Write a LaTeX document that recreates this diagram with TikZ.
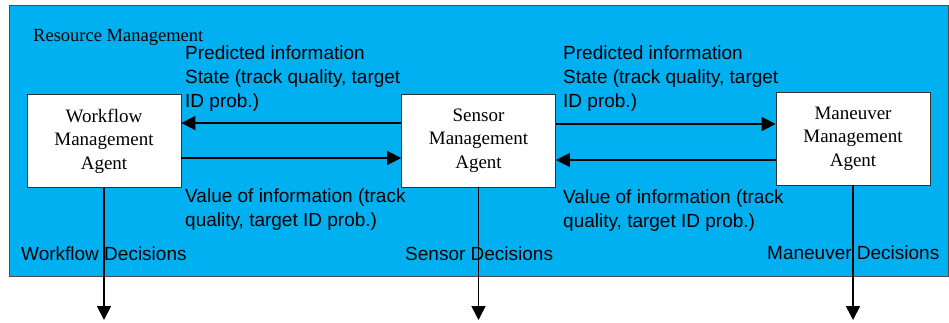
\documentclass[tikz,border=0pt]{standalone}
\usepackage{fontspec}
\setmainfont{Liberation Serif}
\setsansfont{Liberation Sans}
\usetikzlibrary{arrows.meta}
\definecolor{panelblue}{HTML}{00B0F0}
\tikzset{
  agent/.style={draw=black!80, fill=white, line width=0.8pt, minimum width=154pt, minimum height=93pt,
    align=center, inner sep=0pt, font=\fontsize{19}{23.5}\selectfont},
  flowlabel/.style={anchor=west, align=left, inner sep=0pt, font=\sffamily\fontsize{19}{24}\selectfont},
  decision/.style={anchor=west, inner sep=0pt, font=\sffamily\fontsize{19}{24}\selectfont},
  flow/.style={line width=1.6pt, -{Triangle[length=14pt,width=14pt]}},
}
\begin{document}
\begin{tikzpicture}[x=1pt,y=-1pt]
\useasboundingbox (0,0) rectangle (949,322);
% resource management panel
\draw[fill=panelblue, draw=black!70, line width=0.8pt] (9,5) rectangle (948,276);
\node[anchor=base west, inner sep=0pt, font=\fontsize{18.5}{22}\selectfont] (rm) at (33,41) {Resource Management};

% agents
\node[agent] (wf) at (104,141) {Workflow\\Management\\Agent};
\node[agent] (sm) at (478.5,140.5) {Sensor\\Management\\Agent};
\node[agent] (mm) at (853,138.5) {Maneuver\\Management\\Agent};

% flow labels
\node[flowlabel] (lpred) at (185,79) {Predicted information\\State (track quality, target\\ID prob.)};
\node[flowlabel] (lval) at (185,209.5) {Value of information (track\\quality, target ID prob.)};
\node[flowlabel] (rpred) at (563,79) {Predicted information\\State (track quality, target\\ID prob.)};
\node[flowlabel] (rval) at (563,210.5) {Value of information (track\\quality, target ID prob.)};

% decision labels
\node[decision] (wfd) at (21,254) {Workflow Decisions};
\node[decision] (smd) at (405,254) {Sensor Decisions};
\node[decision] (mmd) at (767,253) {Maneuver Decisions};

% rows of the information flows and the lower end of the decision arrows
\coordinate (upl) at (0,123);
\coordinate (lowl) at (0,158);
\coordinate (upr) at (0,124);
\coordinate (lowr) at (0,160);
\coordinate (outrow) at (0,320);

% information flows
\draw[flow] (sm.west |- upl) -- (wf.east |- upl);
\draw[flow] (wf.east |- lowl) -- (sm.west |- lowl);
\draw[flow] (sm.east |- upr) -- (mm.west |- upr);
\draw[flow] (mm.west |- lowr) -- (sm.east |- lowr);

% decisions leaving the panel
\draw[flow] (wf.south) -- (wf.south |- outrow);
\draw[flow] (sm.south) -- (sm.south |- outrow);
\draw[flow] (mm.south) -- (mm.south |- outrow);
\end{tikzpicture}
\end{document}
